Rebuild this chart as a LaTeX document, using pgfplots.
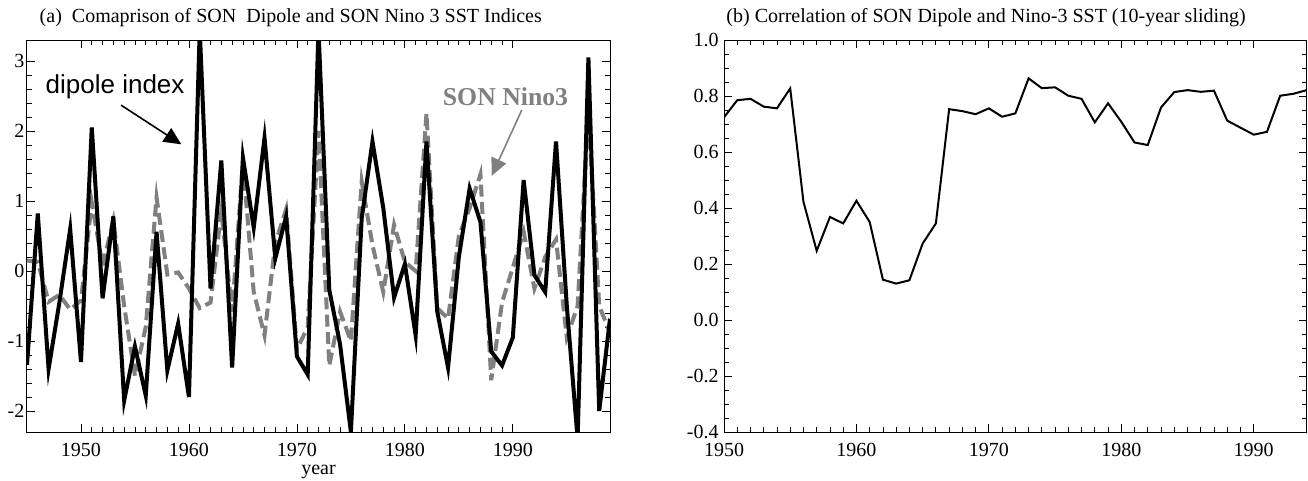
\documentclass[border=0pt]{standalone}
\usepackage{pgfplots}
\pgfplotsset{compat=1.18}
\usepackage{pgfplotstable}
\usepackage{fontspec}
\setmainfont{Liberation Serif}
\newfontfamily\helv{Liberation Sans}
\usetikzlibrary{arrows.meta}

\pgfplotstableread{
year dipole nino
1945 -1.34 0.15
1946 0.82 0.13
1947 -1.40 -0.44
1948 -0.45 -0.34
1949 0.60 -0.55
1950 -1.30 -0.42
1951 2.05 0.98
1952 -0.39 0.08
1953 0.78 0.72
1954 -1.85 -0.50
1955 -1.08 -1.50
1956 -1.78 -0.80
1957 0.56 1.05
1958 -1.42 -0.05
1959 -0.75 -0.02
1960 -1.80 -0.25
1961 3.45 -0.53
1962 -0.25 -0.45
1963 1.58 0.85
1964 -1.38 -0.58
1965 1.62 1.55
1966 0.62 -0.30
1967 1.90 -0.92
1968 0.18 0.40
1969 0.78 0.88
1970 -1.22 -1.12
1971 -1.48 -0.80
1972 3.45 2.00
1973 -0.27 -1.35
1974 -1.05 -0.58
1975 -2.30 -1.00
1976 0.75 1.28
1977 1.85 0.37
1978 0.90 -0.30
1979 -0.38 0.66
1980 0.10 0.13
1981 -0.92 0.00
1982 1.85 2.25
1983 -0.58 -0.53
1984 -1.38 -0.68
1985 0.20 0.50
1986 1.18 0.90
1987 0.70 1.38
1988 -1.15 -1.56
1989 -1.35 -0.45
1990 -0.95 0.05
1991 1.30 0.56
1992 -0.06 -0.25
1993 -0.30 0.20
1994 1.85 0.45
1995 -0.50 -0.95
1996 -2.40 -0.50
1997 3.05 2.30
1998 -2.00 -0.50
1999 -0.68 -0.88
}\dataA

\pgfplotstableread{
year corr
1950 0.724
1951 0.785
1952 0.790
1953 0.762
1954 0.756
1955 0.827
1956 0.422
1957 0.247
1958 0.368
1959 0.345
1960 0.426
1961 0.350
1962 0.144
1963 0.130
1964 0.142
1965 0.273
1966 0.345
1967 0.753
1968 0.746
1969 0.735
1970 0.756
1971 0.726
1972 0.738
1973 0.863
1974 0.828
1975 0.831
1976 0.801
1977 0.790
1978 0.706
1979 0.774
1980 0.708
1981 0.634
1982 0.625
1983 0.759
1984 0.814
1985 0.821
1986 0.815
1987 0.819
1988 0.712
1989 0.687
1990 0.662
1991 0.672
1992 0.801
1993 0.808
1994 0.821
}\dataB

\definecolor{ninogray}{RGB}{128,128,128}

\pgfplotsset{
  idl/.style={
    scale only axis,
    height=294pt,
    tick align=inside,
    xtick pos=both, ytick pos=both,
    major tick length=6pt,
    minor tick length=3.75pt,
    every tick/.style={black, line width=0.6pt},
    axis line style={line width=0.75pt},
    tick label style={font=\fontsize{15}{18}\selectfont},
    xticklabel style={yshift=-4.5pt},
    clip=true,
  }
}

\begin{document}
\begin{tikzpicture}
\useasboundingbox (0pt,0pt) rectangle (981pt,-360pt);

\begin{axis}[idl,
  at={(20.25pt,-324pt)}, anchor=south west,
  width=437.25pt,
  xmin=1945, xmax=1999, ymin=-2.3, ymax=3.3,
  xtick={1950,1960,1970,1980,1990},
  xticklabels={1950,1960,1970,1980,1990},
  minor x tick num=9,
  ytick={-2,-1,0,1,2,3},
  yticklabels={-2,-1,0,1,2,3},
  minor y tick num=4,
  yticklabel style={xshift=1.5pt},
]
\addplot[ninogray, line width=3pt, dash pattern=on 9pt off 4pt, line join=miter] table[x=year, y=nino] {\dataA};
\addplot[black, line width=3pt, line join=miter] table[x=year, y=dipole] {\dataA};
\node[font=\helv\fontsize{19.5}{22}\selectfont] at (axis cs:1953.16,2.63) {dipole index};
\draw[black, line width=1.2pt, -{Triangle[length=13pt,width=12pt]}] (axis cs:1953.71,2.37) -- (axis cs:1959.29,1.81);
\node[ninogray, font=\bfseries\fontsize{19.3}{22}\selectfont] at (axis cs:1989.32,2.49) {SON Nino3};
\draw[ninogray, line width=1.2pt, -{Triangle[length=13pt,width=12pt]}] (axis cs:1990.83,2.30) -- (axis cs:1988.04,1.36);
\end{axis}

\begin{axis}[idl,
  at={(543pt,-324pt)}, anchor=south west,
  width=437pt,
  xmin=1950, xmax=1994, ymin=-0.4, ymax=1.0,
  xtick={1950,1960,1970,1980,1990},
  xticklabels={1950,1960,1970,1980,1990},
  minor x tick num=9,
  ytick={-0.4,-0.2,0,0.2,0.4,0.6,0.8,1.0},
  yticklabels={-0.4,-0.2,0.0,0.2,0.4,0.6,0.8,1.0},
  minor y tick num=3,
  yticklabel style={xshift=-0.5pt},
]
\addplot[black, line width=1.5pt, line join=miter] table[x=year, y=corr] {\dataB};
\end{axis}

\node[anchor=base west, font=\fontsize{15}{18}\selectfont] at (26.25pt,-17pt) {(a)\ \ Comaprison of SON\ \ Dipole and SON Nino 3 SST Indices};
\node[anchor=base west, font=\fontsize{15}{18}\selectfont] at (541.3pt,-17pt) {(b) Correlation of SON Dipole and Nino-3 SST (10-year sliding)};
\node[anchor=base, font=\fontsize{15}{18}\selectfont] at (238.9pt,-355.5pt) {year};
\end{tikzpicture}
\end{document}
